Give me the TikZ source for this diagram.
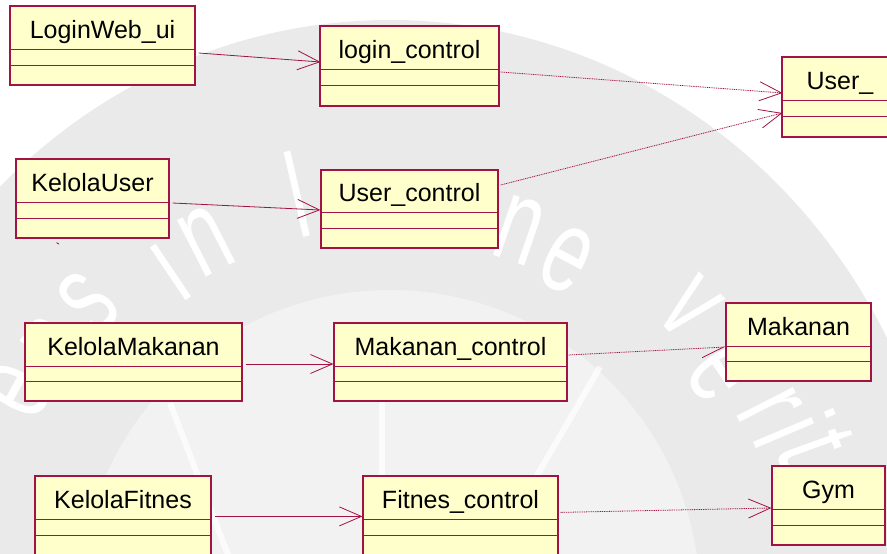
\documentclass[tikz,border=0pt]{standalone}
\usepackage{fontspec}
\setmainfont{Liberation Sans}
\usetikzlibrary{arrows.meta,calc}
\definecolor{umlline}{RGB}{163,18,68}
\definecolor{umlfill}{RGB}{255,255,204}
\definecolor{sealband}{RGB}{234,234,234}
\definecolor{sealinner}{RGB}{242,242,242}

\tikzset{
  classbox/.style={draw=umlline, fill=umlfill, line width=1.2pt, inner sep=0pt, rectangle},
  divider/.style={draw=umlline, line width=0.9pt},
  classlabel/.style={inner sep=0pt, anchor=base, font=\fontsize{25}{30}\selectfont},
  assoc/.style={draw=umlline, line width=0.8pt, -{Straight Barb[length=22pt,width=19pt]}},
  dep/.style={assoc, dash pattern=on 1pt off 0.8pt},
  halfdep/.style={draw=umlline, line width=0.8pt, dash pattern=on 1pt off 0.8pt,
    -{Straight Barb[length=22pt,width=19pt,right]}},
  sealletter/.style={text=white, inner sep=0pt, font=\fontsize{120}{120}\selectfont},
  sealray/.style={white, opacity=0.7, line width=6pt}
}

% class box: name, x1, y1, x2, y2, first divider, second divider, label
\newcommand{\umlclass}[8]{%
  \node[classbox, minimum width={(#4-#2)*1pt}, minimum height={(#5-#3)*1pt}]
    (#1) at ({(#2+#4)/2},{(#3+#5)/2}) {};
  \draw[divider] (#2,#6) -- (#4,#6);
  \draw[divider] (#2,#7) -- (#4,#7);
  \node[classlabel] (#1-name) at ({(#2+#4)/2},{#6-10.5}) {#8};
}

\begin{document}
\begin{tikzpicture}[x=1pt, y=-1pt]
  \useasboundingbox (0,0) rectangle (887,554);

  % university seal in the background
  \begin{scope}
    \clip (0,0) rectangle (887,554);
    \fill[sealband] (390,610) ellipse [x radius=560, y radius=590];
    \fill[sealinner] (390,600) circle (310);
    \draw[sealray] (382,397) -- (382,560);
    \draw[sealray] (170,403) -- (230,560);
    \draw[sealray] (600,367) -- (488,560);
    \foreach \ch/\px/\py/\rot in {
      e/17/390/61, n/55/347/53, s/88/303/46, i/164/263/34, n/206/241/27,
      l/297/194/13, n/520/230/-19, e/567/260/-28, v/690/308/-46,
      e/721/373/-56, r/769/408/-63, i/795/428/-67, t/815/447/-70}
      \node[sealletter, rotate=\rot] at (\px,\py) {\scalebox{0.65}[1]{\ch}};
  \end{scope}

  % classes
  \umlclass{loginui}{10}{6}{195}{85}{49}{65}{LoginWeb\_ui}
  \umlclass{loginctl}{320}{26}{499}{106}{69}{85}{login\_control}
  \umlclass{user}{782}{57}{898}{137}{100}{116}{User\_}
  \umlclass{kelolauser}{16}{159}{169}{238}{202}{218}{KelolaUser}
  \umlclass{userctl}{321}{170}{498}{248}{212}{228}{User\_control}
  \umlclass{kelolamakanan}{25}{323}{242}{401}{366}{381}{KelolaMakanan}
  \umlclass{makananctl}{334}{323}{567}{401}{366}{381}{Makanan\_control}
  \umlclass{makanan}{726}{303}{871}{381}{346}{361}{Makanan}
  \umlclass{kelolafitnes}{35}{476}{211}{580}{519}{535}{KelolaFitnes}
  \umlclass{fitnesctl}{363}{476}{558}{580}{519}{535}{Fitnes\_control}
  \umlclass{gym}{772}{466}{885}{545}{509}{525}{Gym}

  % small stray tick below KelolaUser
  \draw[umlline, line width=0.8pt] ([shift={(-36,4)}]kelolauser.south) -- ++(2.5,1.5);

  % boundary -> control
  \draw[assoc] ([shift={(3,7.5)}]loginui.east) -- ([shift={(1,-4)}]loginctl.west);
  \draw[assoc] ([shift={(3,4.5)}]kelolauser.east) -- ([shift={(0,1)}]userctl.west);
  \draw[assoc] ([shift={(3,2)}]kelolamakanan.east) -- ([shift={(0,2)}]makananctl.west);
  \draw[assoc] ([shift={(3,41)}]kelolafitnes.north east) -- ([shift={(0,41)}]fitnesctl.north west);

  % control -> entity
  \draw[dep] ([shift={(1,6)}]loginctl.east) -- ([shift={(1,-4)}]user.west);
  \draw[dep] ([shift={(2,-24)}]userctl.east) -- ([shift={(1,16)}]user.west);
  \draw[halfdep] ([shift={(1,-7)}]makananctl.east) -- ([shift={(0,5)}]makanan.west);
  \draw[dep] ([shift={(2,37)}]fitnesctl.north east) -- ([shift={(0,2.5)}]gym.west);
\end{tikzpicture}
\end{document}
